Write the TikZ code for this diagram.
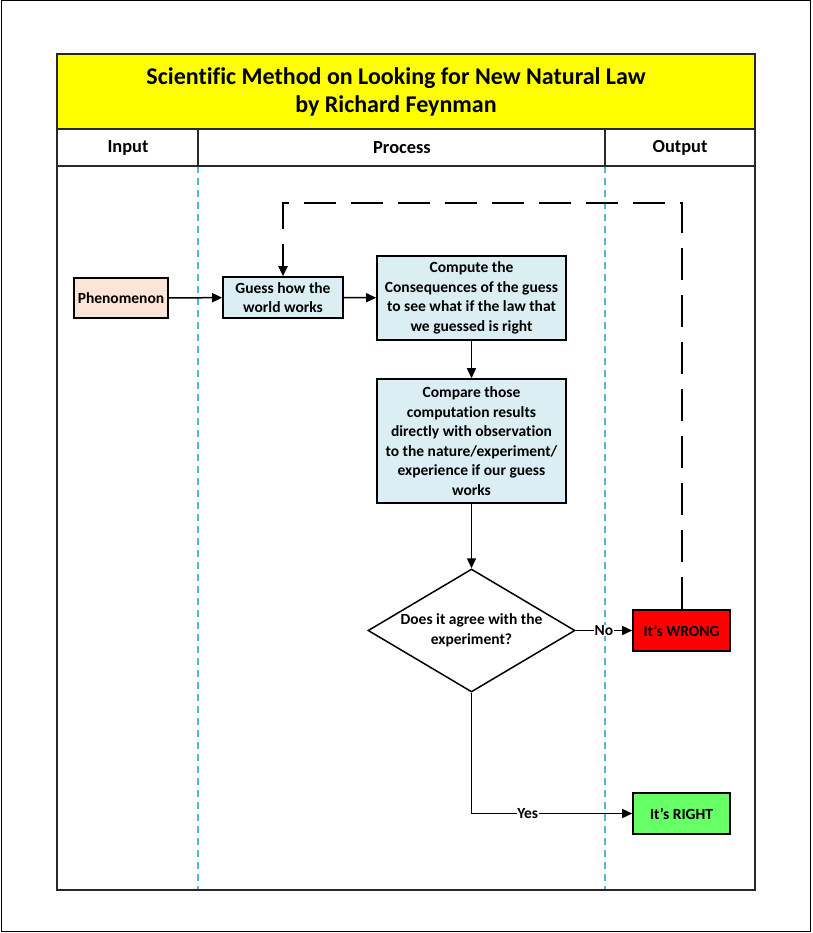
\documentclass[tikz,border=0pt]{standalone}
\usepackage{fontspec}
\setmainfont[Ligatures=NoCommon]{Carlito}
\usetikzlibrary{arrows.meta,shapes.geometric}
\definecolor{peach}{RGB}{252,228,214}
\definecolor{lblue}{RGB}{218,238,243}
\definecolor{tyellow}{RGB}{255,255,0}
\definecolor{wred}{RGB}{255,0,0}
\definecolor{rgreen}{RGB}{102,255,102}
\definecolor{lanecyan}{RGB}{80,185,215}
\definecolor{framegray}{RGB}{40,40,40}
\begin{document}
\begin{tikzpicture}[x=1pt,y=-1pt,
  box/.style={draw=black,line width=1.6pt,align=center,inner sep=0pt,
    font=\bfseries\fontsize{15.5}{19.5}\selectfont},
  arr/.style={draw=black,line width=1.5pt,-{Triangle[length=10pt,width=9pt]}},
  fb/.style={draw=black,line width=2pt,dash pattern=on 32pt off 15pt,-{Triangle[length=10pt,width=9pt]}},
  lbl/.style={fill=white,inner sep=0.6pt,font=\bfseries\fontsize{15.5}{18}\selectfont},
  lane/.style={draw=lanecyan,line width=1.2pt,dash pattern=on 7pt off 5pt},
  hdr/.style={font=\bfseries\fontsize{18.4}{22}\selectfont},
]
\useasboundingbox (0,0) rectangle (812,933);
\draw[line width=1pt,black] (1,1) rectangle (810,931);
% title band
\fill[tyellow] (57,54) rectangle (755,129);
\node[align=center,font=\bfseries\fontsize{24}{28}\selectfont] (title) at (396,92)
  {Scientific Method on Looking for New Natural Law\\by Richard Feynman};
% lanes
\draw[lane] (198,166) -- (198,890);
\draw[lane] (605,166) -- (605,890);
\draw[framegray,line width=1.5pt] (57,54) rectangle (755,890);
\draw[framegray,line width=1.5pt] (57,129) -- (755,129);
\draw[framegray,line width=1.5pt] (57,166) -- (755,166);
\draw[framegray,line width=1.5pt] (198,129) -- (198,166);
\draw[framegray,line width=1.5pt] (605,129) -- (605,166);
\node[hdr] (hin) at (128,148) {Input};
\node[hdr] (hpr) at (402,148) {Process};
\node[hdr] (hout) at (680,148) {Output};
% nodes
\node[box,fill=peach,minimum width=94pt,minimum height=40pt] (phen) at (121,298) {Phenomenon};
\node[box,fill=lblue,minimum width=120pt,minimum height=41pt] (guess) at (283,297.5) {Guess how the\\world works};
\node[box,fill=lblue,minimum width=189pt,minimum height=84pt] (comp) at (471.5,298)
  {Compute the\\Consequences of the guess\\to see what if the law that\\we guessed is right};
\node[box,fill=lblue,minimum width=189pt,minimum height=124pt] (cmpr) at (471.5,441)
  {Compare those\\computation results\\directly with observation\\to the nature/experiment/\\experience if our guess\\works};
\node[box,diamond,fill=white,line width=1.5pt,aspect=1.68,inner sep=-2pt,
  minimum width=207pt,minimum height=123pt] (dec) at (471.5,630.5)
  {Does it agree with the\\experiment?};
\node[box,fill=wred,minimum width=97pt,minimum height=41pt] (wrong) at (681.5,630.5) {It’s WRONG};
\node[box,fill=rgreen,minimum width=97pt,minimum height=41pt] (right) at (681.5,813.5) {It’s RIGHT};
\coordinate (fbtop) at (681.5,203);
% connectors
\draw[arr] (phen) -- (guess);
\draw[arr] (guess) -- (comp);
\draw[arr] (comp) -- (cmpr);
\draw[arr] (cmpr) -- (dec);
\draw[arr] (dec.east) -- node[lbl]{No} (wrong.west);
\draw[arr] (dec.south) |- node[lbl,pos=0.675]{Yes} (right.west);
\draw[fb] (wrong.north) -- (fbtop) -| (guess.north);
\end{tikzpicture}
\end{document}
